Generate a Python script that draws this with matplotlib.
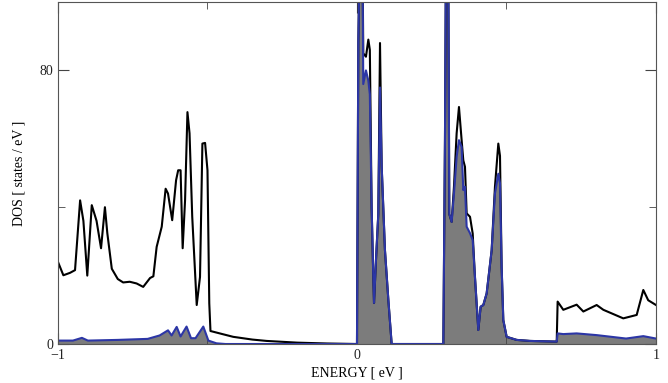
import numpy as np
import matplotlib
matplotlib.use("Agg")
import matplotlib.pyplot as plt
from matplotlib.ticker import MultipleLocator

plt.rcParams['font.family'] = ['Liberation Serif', 'DejaVu Serif']

# total DOS (black)
energy_tot = [-1.0, -0.982, -0.96, -0.943, -0.926, -0.915, -0.902, -0.887, -0.871, -0.856,
              -0.843, -0.835, -0.82, -0.80, -0.782, -0.76, -0.737, -0.715, -0.692, -0.681,
              -0.67, -0.653, -0.64,
              -0.632, -0.618, -0.605, -0.598, -0.59, -0.583, -0.575, -0.567, -0.56, -0.551,
              -0.536, -0.525, -0.517, -0.508, -0.5, -0.494, -0.49, -0.45, -0.414, -0.35,
              -0.302, -0.2, -0.1, 0.0,
              0.0045, 0.01, 0.018, 0.021, 0.03, 0.038, 0.043, 0.049, 0.0546, 0.057,
              0.0635, 0.0713, 0.077, 0.0826, 0.0936, 0.105, 0.116, 0.2888, 0.2943, 0.298,
              0.305, 0.3088, 0.3166, 0.3244, 0.3333, 0.3411, 0.35, 0.3556, 0.3612, 0.3668,
              0.378, 0.387, 0.3946, 0.4058, 0.4136, 0.4225, 0.4337, 0.4504, 0.4615, 0.4727,
              0.4783, 0.4838, 0.4894, 0.5006, 0.534, 0.5786, 0.668, 0.6711, 0.69, 0.7347,
              0.757, 0.8016, 0.824, 0.8906, 0.9355, 0.9576, 0.974, 1.0]
dos_tot = [24, 20.1, 20.8, 21.6, 42, 36, 20, 40.6, 36, 28,
           40, 32.4, 22, 19, 18, 18.2, 17.7, 16.7, 19.3, 19.8,
           28.4, 34.3, 45.4,
           44, 36.2, 47.9, 50.8, 50.8, 28, 42, 67.8, 61.6, 37.2,
           11.4, 19.6, 58.6, 58.8, 50.8, 11.9, 3.8, 2.9, 2.1, 1.3,
           0.9, 0.4, 0.15, 0.0,
           88, 120, 120, 85, 84, 89, 86, 40, 19.6, 12,
           24.5, 38, 88, 52, 27.4, 12.8, 0, 0, 60, 120,
           120, 38, 35.7, 46, 61.6, 69.3, 59.6, 53.7, 51.8, 38.2,
           37.2, 32.3, 19.6, 4.1, 10.9, 11.4, 14.8, 27.4, 46, 58.6,
           55, 22.6, 7, 2.1, 1.2, 0.9, 0.7, 12.4, 10, 11.5,
           9.5, 11.4, 10, 7.5, 8.5, 15.8, 12.8, 11.4]

# partial DOS (blue, filled)
energy_part = [-1.0, -0.95, -0.92, -0.9, -0.8, -0.7, -0.66, -0.632, -0.62, -0.603,
               -0.59, -0.57, -0.555, -0.54, -0.514, -0.497, -0.47, -0.44, 0.0,
               0.0045, 0.01, 0.018, 0.021, 0.03, 0.038, 0.043, 0.049, 0.0546, 0.057,
               0.0635, 0.0713, 0.077, 0.0826, 0.0936, 0.105, 0.116, 0.2888, 0.2943, 0.298,
               0.305, 0.3088, 0.3166, 0.3244, 0.3333, 0.3411, 0.35, 0.3556, 0.3612, 0.3668,
               0.378, 0.387, 0.3946, 0.4058, 0.4136, 0.4225, 0.4337, 0.4504, 0.4615, 0.4727,
               0.4783, 0.4838, 0.4894, 0.5006, 0.534, 0.5786, 0.668, 0.6711, 0.69, 0.7347,
               0.8016, 0.9, 0.9576, 1.0]
dos_part = [1.0, 1.0, 1.8, 1.0, 1.2, 1.5, 2.5, 4, 2.5, 5,
            2.2, 5.1, 1.7, 1.7, 5.1, 1.0, 0.2, 0, 0,
            88, 120, 120, 76, 80, 77, 73, 40, 19.6, 12,
            24.5, 38, 75, 52, 27.4, 12.8, 0, 0, 60, 120,
            120, 38, 35.7, 44, 54.7, 59.6, 57.6, 45, 46, 34.3,
            32.4, 30.4, 19.6, 4.1, 10.9, 11.4, 14.8, 27.4, 44, 49.8,
            47, 22.6, 7, 2.1, 1.2, 0.9, 0.7, 3.1, 2.9, 3.1,
            2.6, 1.6, 2.3, 1.6]

fig = plt.figure(figsize=(6.68, 3.83), dpi=100)
ax = fig.add_axes([0.0868, 0.1018, 0.8952, 0.893])

ax.fill_between(energy_part, dos_part, 0, color='#7c7c7c', linewidth=0)
ax.plot(energy_tot, dos_tot, color='black', lw=1.5)
ax.plot(energy_part, dos_part, color='#2c36a6', lw=1.5)

ax.set_xlim(-1, 1)
ax.set_ylim(0, 100)
ax.xaxis.set_major_locator(MultipleLocator(1))
ax.xaxis.set_minor_locator(MultipleLocator(0.5))
ax.yaxis.set_major_locator(MultipleLocator(80))
ax.yaxis.set_minor_locator(MultipleLocator(40))
ax.tick_params(which='both', direction='in', top=True, right=True,
               colors='#444444', labelcolor='#222222', labelsize=10)
ax.tick_params(which='major', length=8)
ax.tick_params(which='minor', length=5)
for s in ax.spines.values():
    s.set_color('#555555')

ax.set_xlabel('ENERGY [ eV ]', fontsize=10, labelpad=3)
ax.set_ylabel('DOS [ states / eV ]', fontsize=10, labelpad=10)

fig.savefig('out.png', dpi=100)
